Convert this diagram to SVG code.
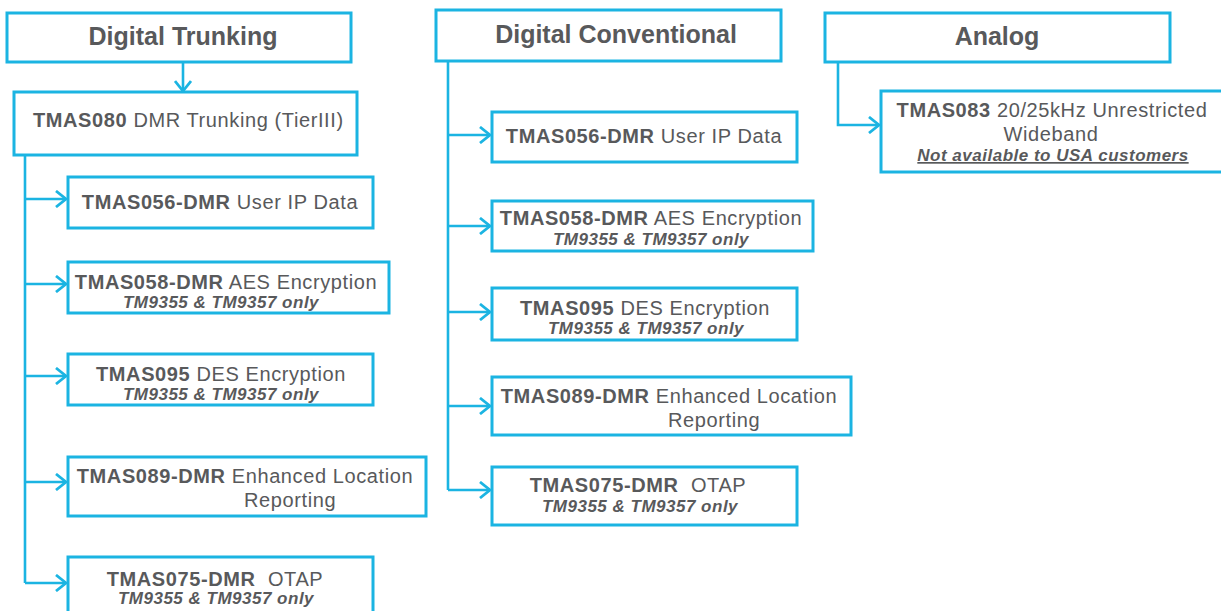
<svg xmlns="http://www.w3.org/2000/svg" width="1221" height="611" viewBox="0 0 1221 611">
<style>
.box{fill:#fff;stroke:#1bb4e2;stroke-width:3}
.ln{fill:none;stroke:#1bb4e2;stroke-width:2.6}
text{font-family:"Liberation Sans",Arial,sans-serif;fill:#58595b}
.title{font-size:25px;font-weight:bold;text-anchor:middle}
.main{font-size:20px;letter-spacing:0.6px}
.c{text-anchor:middle}
.b{font-weight:bold}
.sub{font-size:17px;font-weight:bold;font-style:italic;letter-spacing:0.5px;text-anchor:middle}
.u{text-decoration:underline}
</style>
<defs>
<marker id="arr" viewBox="0 0 12 18" refX="11" refY="9" markerWidth="12" markerHeight="18" markerUnits="userSpaceOnUse" orient="auto">
<path d="M1,1 L11,9 L1,17" fill="none" stroke="#1bb4e2" stroke-width="2.8"/>
</marker>
</defs>
<rect width="1221" height="611" fill="#fff"/>

<g id="connectors">
<path class="ln" d="M183,62 V91" marker-end="url(#arr)"/>
<path class="ln" d="M25,155 V583"/>
<path class="ln" d="M25,199 H66" marker-end="url(#arr)"/>
<path class="ln" d="M25,284 H66" marker-end="url(#arr)"/>
<path class="ln" d="M25,376 H66" marker-end="url(#arr)"/>
<path class="ln" d="M25,482 H66" marker-end="url(#arr)"/>
<path class="ln" d="M25,583 H66" marker-end="url(#arr)"/>
<path class="ln" d="M448,61 V490"/>
<path class="ln" d="M448,135 H490" marker-end="url(#arr)"/>
<path class="ln" d="M448,226 H490" marker-end="url(#arr)"/>
<path class="ln" d="M448,312 H490" marker-end="url(#arr)"/>
<path class="ln" d="M448,406 H490" marker-end="url(#arr)"/>
<path class="ln" d="M448,490 H490" marker-end="url(#arr)"/>
<path class="ln" d="M838,62 V125 H879" marker-end="url(#arr)"/>
</g>

<g id="digital-trunking">
<rect class="box" x="7" y="13" width="344" height="49"/>
<text class="title" x="183" y="45">Digital Trunking</text>
</g>
<g id="tmas080">
<rect class="box" x="14" y="92" width="343" height="63"/>
<text class="main" x="33" y="127"><tspan class="b">TMAS080</tspan> DMR Trunking (TierIII)</text>
</g>
<g id="dt-tmas056">
<rect class="box" x="68" y="177" width="305" height="51"/>
<text class="main c" x="220" y="209"><tspan class="b">TMAS056-DMR</tspan> User IP Data</text>
</g>
<g id="dt-tmas058">
<rect class="box" x="68" y="262" width="321" height="51"/>
<text class="main c" x="226" y="289"><tspan class="b">TMAS058-DMR</tspan> AES Encryption</text>
<text class="sub" x="221" y="308">TM9355 &amp; TM9357 only</text>
</g>
<g id="dt-tmas095">
<rect class="box" x="68" y="354" width="305" height="51"/>
<text class="main c" x="221" y="381"><tspan class="b">TMAS095</tspan> DES Encryption</text>
<text class="sub" x="221" y="400">TM9355 &amp; TM9357 only</text>
</g>
<g id="dt-tmas089">
<rect class="box" x="68" y="457" width="358" height="59"/>
<text class="main c" x="245" y="483"><tspan class="b">TMAS089-DMR</tspan> Enhanced Location</text>
<text class="main" x="244" y="507">Reporting</text>
</g>
<g id="dt-tmas075">
<rect class="box" x="68" y="557" width="305" height="70"/>
<text class="main c" x="215" y="586"><tspan class="b">TMAS075-DMR</tspan>&#160; OTAP</text>
<text class="sub" x="216" y="604">TM9355 &amp; TM9357 only</text>
</g>

<g id="digital-conventional">
<rect class="box" x="436" y="10" width="345" height="51"/>
<text class="title" x="616" y="43">Digital Conventional</text>
</g>
<g id="dc-tmas056">
<rect class="box" x="492" y="112" width="305" height="50"/>
<text class="main c" x="644" y="143"><tspan class="b">TMAS056-DMR</tspan> User IP Data</text>
</g>
<g id="dc-tmas058">
<rect class="box" x="492" y="201" width="321" height="50"/>
<text class="main c" x="651" y="225"><tspan class="b">TMAS058-DMR</tspan> AES Encryption</text>
<text class="sub" x="651" y="245">TM9355 &amp; TM9357 only</text>
</g>
<g id="dc-tmas095">
<rect class="box" x="492" y="288" width="305" height="52"/>
<text class="main c" x="645" y="315"><tspan class="b">TMAS095</tspan> DES Encryption</text>
<text class="sub" x="646" y="334">TM9355 &amp; TM9357 only</text>
</g>
<g id="dc-tmas089">
<rect class="box" x="492" y="377" width="359" height="58"/>
<text class="main c" x="669" y="403"><tspan class="b">TMAS089-DMR</tspan> Enhanced Location</text>
<text class="main" x="668" y="427">Reporting</text>
</g>
<g id="dc-tmas075">
<rect class="box" x="492" y="467" width="305" height="58"/>
<text class="main c" x="638" y="492"><tspan class="b">TMAS075-DMR</tspan>&#160; OTAP</text>
<text class="sub" x="640" y="512">TM9355 &amp; TM9357 only</text>
</g>

<g id="analog">
<rect class="box" x="825" y="13" width="345" height="49"/>
<text class="title" x="997" y="45">Analog</text>
</g>
<g id="an-tmas083">
<rect class="box" x="881" y="91" width="350" height="81"/>
<text class="main c" x="1052" y="117"><tspan class="b">TMAS083</tspan> 20/25kHz Unrestricted</text>
<text class="main c" x="1051" y="141">Wideband</text>
<text class="sub u" x="1053" y="161">Not available to USA customers</text>
</g>
</svg>
